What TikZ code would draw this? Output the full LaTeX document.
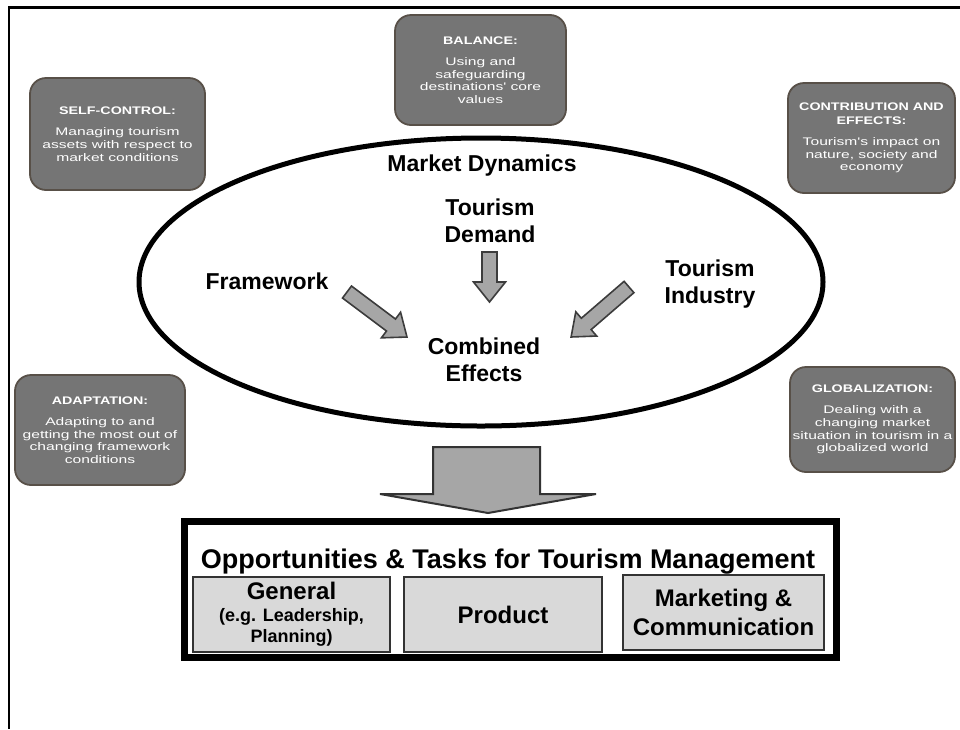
\documentclass[tikz,border=0pt]{standalone}
\usepackage{fontspec}
\setmainfont{Liberation Sans}
\newfontfamily\boxtfont[FakeStretch=1.3]{Liberation Sans}
\newfontfamily\boxbfont[FakeStretch=1.42]{Liberation Sans}
\usetikzlibrary{shapes.geometric}
\definecolor{boxgray}{RGB}{117,117,117}
\definecolor{boxedge}{RGB}{88,80,72}
\definecolor{arrowfill}{RGB}{166,166,166}
\definecolor{arrowedge}{RGB}{60,60,60}
\definecolor{subfill}{RGB}{217,217,217}
\newcommand\ttl{\boxtfont\bfseries\fontsize{11}{13.5}\selectfont}
\newcommand\fatarrow[4]{%
  \draw[smallarrow, shift={(#1,#2)}, rotate=#3]
    (0,-7.5) -- ({#4-20},-7.5) -- ({#4-20},-16) -- (#4,0) -- ({#4-20},16) -- ({#4-20},7.5) -- (0,7.5) -- cycle;}
\tikzset{
  graybox/.style={draw=boxedge, fill=boxgray, line width=1.8pt, rounded corners=16pt,
    text=white, align=center, inner sep=0pt, font=\boxbfont\fontsize{11}{12.7}\selectfont},
  ellipsetext/.style={font=\bfseries\fontsize{23}{27.5}\selectfont, align=center, inner sep=0pt},
  smallarrow/.style={draw=arrowedge, fill=arrowfill, line width=1.6pt, line join=miter},
  bigarrowstyle/.style={draw=black!80, fill=arrowfill, line width=2pt, line join=miter},
  subbox/.style={draw=black!80, fill=subfill, line width=1.5pt, inner sep=0pt, align=center,
    font=\bfseries\fontsize{24}{29}\selectfont},
}
\begin{document}
\begin{tikzpicture}[x=1pt,y=-1pt]
\useasboundingbox (0,0) rectangle (960,729);
% frame
\draw[line width=3pt] (8,7.5) -- (960,7.5);
\draw[line width=2pt] (9,6) -- (9,729);

% gray boxes
\node[graybox, minimum width=171, minimum height=110] (balance) at (480.5,70)
  {{\ttl BALANCE:}\\[8.5pt]Using and\\safeguarding\\destinations' core\\values};
\node[graybox, minimum width=175, minimum height=112] (selfctrl) at (117.5,134)
  {{\ttl SELF-CONTROL:}\\[8.5pt]Managing tourism\\assets with respect to\\market conditions};
\node[graybox, minimum width=167, minimum height=110] (contrib) at (871.5,138)
  {{\ttl CONTRIBUTION AND}\\[1pt]{\ttl EFFECTS:}\\[8.5pt]Tourism's impact on\\nature, society and\\economy};
\node[graybox, minimum width=170, minimum height=110] (adapt) at (100,430)
  {{\ttl ADAPTATION:}\\[8.5pt]Adapting to and\\getting the most out of\\changing framework\\conditions};
\node[graybox, minimum width=165, minimum height=105] (global) at (872.5,419.5)
  {{\ttl GLOBALIZATION:}\\[8.5pt]Dealing with a\\changing market\\situation in tourism in a\\globalized world};

% ellipse
\node[draw, ellipse, line width=5pt, minimum width=684, minimum height=288, inner sep=0pt] (dyn) at (481,282) {};
\node[ellipsetext, anchor=base] (market) at (482,171) {Market Dynamics};
\node[ellipsetext] (demand) at (490,220.6) {Tourism\\Demand};
\node[ellipsetext, anchor=base] (frame) at (267,289) {Framework};
\node[ellipsetext] (industry) at (710,284) {Tourism\\Industry};
\node[ellipsetext] (combined) at (484,360) {Combined\\Effects};

% small arrows
\fatarrow{489.5}{252}{-90}{50}
\fatarrow{347}{292}{-36.9}{75}
\fatarrow{629}{287}{-139.2}{76.5}

% big arrow
\draw[bigarrowstyle] (433,447) -- (540,447) -- (540,494) -- (596,494) -- (488,513) -- (380,494) -- (433,494) -- cycle;

% bottom box
\node[draw, line width=7pt, minimum width=652, minimum height=136, inner sep=0pt] (tasks) at (510,589) {};
\node[font=\bfseries\fontsize{27}{30}\selectfont, inner sep=0pt, anchor=base] (taskstitle) at (508,568)
  {Opportunities \& Tasks for Tourism Management};
\node[subbox, minimum width=197, minimum height=75, font=\bfseries\fontsize{18}{21}\selectfont] (general) at (291.5,614.5)
  {{\fontsize{24}{24}\selectfont General}\\[1pt](e.g. Leadership,\\Planning)};
\node[subbox, minimum width=198, minimum height=75] (product) at (503,614.5) {Product};
\node[subbox, minimum width=201, minimum height=75] (marketing) at (723.5,612.5) {Marketing \&\\Communication};
\end{tikzpicture}
\end{document}
